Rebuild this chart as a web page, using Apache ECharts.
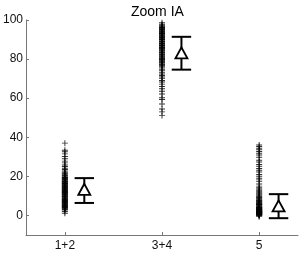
<!DOCTYPE html>
<html><head><meta charset="utf-8">
<script src="https://cdn.jsdelivr.net/npm/echarts@6/dist/echarts.min.js"></script>
<style>html,body{margin:0;padding:0;background:#fff}#c{width:300px;height:253px}</style>
</head><body><div id="c"></div>
<script>
var categories = ['1+2', '3+4', '5'];
var yTicks = [0, 20, 40, 60, 80, 100];
var g1 = [1.1, 2.0, 2.8, 3.2, 3.5, 3.9, 4.2, 4.6, 5.0, 5.3, 5.7, 6.0, 6.4, 6.8, 7.1, 7.5, 7.9, 8.2, 8.6, 9.0, 9.3, 9.7, 10.1, 10.4, 10.8, 11.2, 11.5, 11.9, 12.3, 12.6, 13.0, 13.4, 13.7, 14.1, 14.5, 14.8, 15.2, 15.6, 15.9, 16.3, 16.7, 17.0, 17.4, 17.8, 18.1, 18.5, 18.9, 19.2, 19.6, 20.0, 20.4, 20.8, 21.3, 21.7, 22.2, 22.8, 23.5, 24.1, 25.0, 25.8, 26.9, 27.8, 29.0, 30.2, 31.5, 32.6, 33.4, 37.0, 4.4, 5.5, 6.6, 7.7, 8.8, 9.9, 11.0, 12.1, 13.2, 14.3, 15.4, 16.5, 3.3, 4.0, 5.1, 6.2, 7.3, 8.4, 9.5, 10.6, 11.7, 12.8, 13.9, 15.0, 16.1, 17.2, 18.3, 19.4];
var g2 = [51.2, 53.0, 54.5, 57.0, 59.3, 60.2, 62.1, 63.5, 64.8, 66.0, 67.2, 68.3, 69.1, 70.0, 70.8, 71.6, 72.4, 73.3, 74.1, 74.8, 75.5, 76.1, 76.8, 77.4, 78.0, 78.6, 79.2, 79.8, 80.3, 80.9, 81.4, 82.0, 82.5, 83.0, 83.5, 84.0, 84.5, 85.0, 85.4, 85.9, 86.3, 86.8, 87.2, 87.6, 88.0, 88.4, 88.8, 89.2, 89.6, 90.0, 90.4, 90.8, 91.2, 91.6, 92.0, 92.4, 92.8, 93.2, 93.6, 94.0, 94.4, 94.8, 95.2, 95.6, 96.0, 96.4, 96.8, 97.3, 97.8, 98.6, 85.2, 86.1, 87.0, 88.1, 89.0, 90.2, 91.1, 92.2, 93.1, 94.2, 95.1, 96.2, 84.2, 83.3, 82.2, 81.1, 80.0, 79.0, 78.1, 77.0];
var g3 = [-0.6, -0.2, 0.1, 0.3, 0.5, 0.7, 0.9, 1.1, 1.3, 1.5, 1.7, 1.9, 2.1, 2.3, 2.5, 2.7, 2.9, 3.1, 3.3, 3.5, 3.7, 3.9, 4.1, 4.4, 4.7, 5.0, 5.3, 5.6, 5.9, 6.2, 6.5, 6.8, 7.1, 7.4, 7.7, 8.0, 8.4, 8.8, 9.2, 9.6, 10.0, 10.5, 11.0, 11.5, 12.0, 12.5, 13.0, 13.6, 14.2, 15.0, 16.1, 17.3, 18.2, 19.0, 20.1, 21.0, 22.2, 23.1, 24.0, 25.2, 26.1, 27.3, 28.2, 29.8, 30.9, 31.8, 32.7, 33.6, 34.4, 35.3, 36.0, 0.2, 0.4, 0.6, 0.8, 1.0, 1.2, 1.4, 1.6, 1.8, 2.0, 2.2, 2.6, 3.0, 3.4, 3.8, 4.2, 5.5, 6.0];
var means = [13.4, 83.2, 4.9];
var lowers = [6.4, 74.6, -1.4];
var uppers = [19.1, 91.4, 10.9];

var groups = [g1, g2, g3];
var scatterData = [];
groups.forEach(function (g, i) { g.forEach(function (v) { scatterData.push([i + 1, v]); }); });
var ERR_OFFSET = 0.2, CAP = 0.1;
var errData = means.map(function (m, i) { return [i + 1 + ERR_OFFSET, lowers[i], uppers[i]]; });
var meanData = means.map(function (m, i) { return [i + 1 + ERR_OFFSET, m]; });

var axisCol = '#777';
var chart = echarts.init(document.getElementById('c'), null, { renderer: 'canvas' });
chart.setOption({
  animation: false,
  title: { text: 'Zoom IA', left: 126, top: 0, textStyle: { fontFamily: 'Liberation Sans', fontSize: 14, fontWeight: 'normal', color: '#000' } },
  grid: { left: 25, right: 2, top: 20, bottom: 18 },
  xAxis: {
    type: 'value', min: 0.6, max: 3.4,
    splitLine: { show: false },
    axisLine: { onZero: false, lineStyle: { color: axisCol } },
    axisTick: { inside: true, length: 3, customValues: [1, 2, 3], lineStyle: { color: axisCol } },
    axisLabel: { customValues: [1, 2, 3], margin: 5, color: '#111', fontFamily: 'Liberation Sans', fontSize: 12,
      formatter: function (v) { return categories[Math.round(v) - 1]; } }
  },
  yAxis: {
    type: 'value', min: -10, max: 100,
    splitLine: { show: false },
    axisLine: { show: true, onZero: false, lineStyle: { color: axisCol } },
    axisTick: { show: true, inside: true, length: 3, customValues: yTicks, lineStyle: { color: axisCol } },
    axisLabel: { customValues: yTicks, margin: 3, color: '#111', fontFamily: 'Liberation Sans', fontSize: 12 }
  },
  series: [
    {
      type: 'scatter', data: scatterData,
      symbol: 'path://M0,4.2H10V5.8H0Z M4.2,0H5.8V10H4.2Z', symbolSize: 6,
      itemStyle: { color: '#000', opacity: 0.8 }
    },
    {
      type: 'custom', data: errData,
      renderItem: function (params, api) {
        var x = api.value(0), lo = api.value(1), hi = api.value(2);
        var pLo = api.coord([x, lo]), pHi = api.coord([x, hi]);
        var l1 = api.coord([x - CAP, lo]), r1 = api.coord([x + CAP, lo]);
        var l2 = api.coord([x - CAP, hi]), r2 = api.coord([x + CAP, hi]);
        var st = { stroke: '#000', lineWidth: 2 };
        return { type: 'group', children: [
          { type: 'line', shape: { x1: pLo[0], y1: pLo[1], x2: pHi[0], y2: pHi[1] }, style: st },
          { type: 'line', shape: { x1: l1[0], y1: l1[1], x2: r1[0], y2: r1[1] }, style: st },
          { type: 'line', shape: { x1: l2[0], y1: l2[1], x2: r2[0], y2: r2[1] }, style: st }
        ] };
      }
    },
    {
      type: 'scatter', data: meanData, symbol: 'triangle', symbolSize: [12, 11],
      itemStyle: { color: '#fff', borderColor: '#000', borderWidth: 1.8, opacity: 1 }, z: 5
    }
  ]
});
</script></body></html>
